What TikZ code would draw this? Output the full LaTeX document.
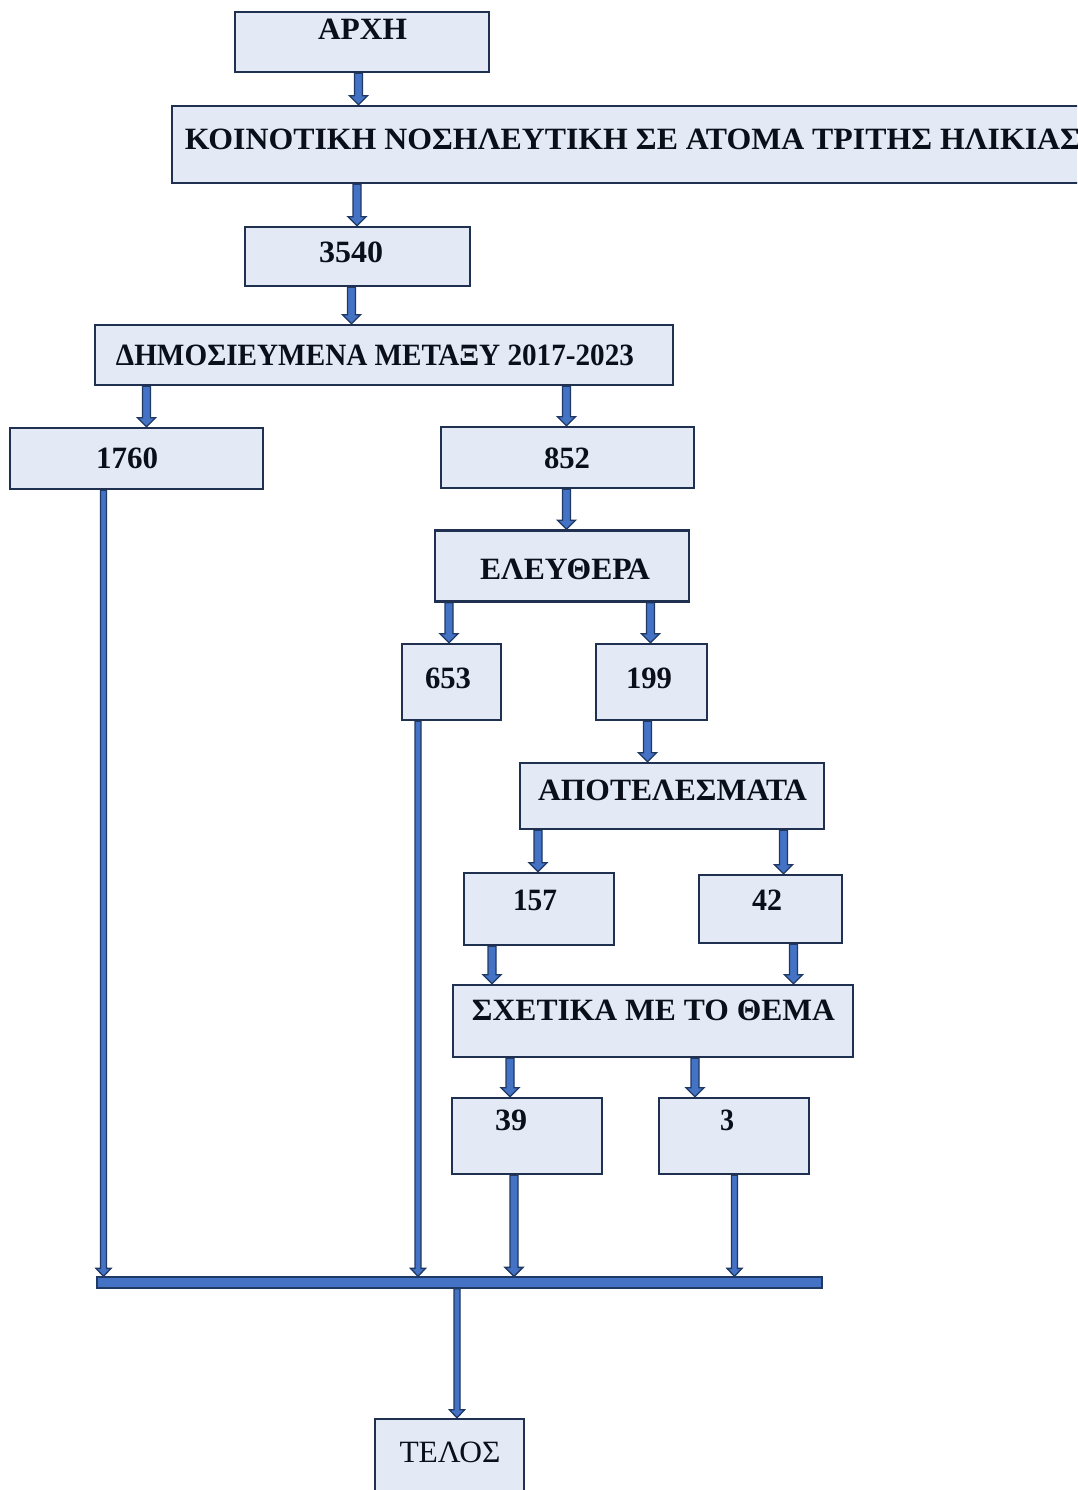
\documentclass[tikz,border=0pt]{standalone}
\usepackage{graphicx}
\usepackage{fontspec}
\setmainfont{Liberation Serif}
\usetikzlibrary{calc,backgrounds}
\definecolor{boxfill}{HTML}{E3E9F5}
\definecolor{boxline}{HTML}{1F3050}
\definecolor{arrblue}{HTML}{4472C4}
\definecolor{arrline}{HTML}{1F3864}
\definecolor{txtc}{HTML}{0A0F1A}
\newcommand{\fitw}[2]{\resizebox{#1pt}{\height}{#2}}
\begin{document}
\begin{tikzpicture}[x=1pt,y=-1pt,
  box/.style={draw=boxline, fill=boxfill, line width=2.4pt, inner sep=0pt, rectangle},
  lbl/.style={anchor=base, inner sep=0pt, text=txtc, font=\fontsize{31}{36}\selectfont\bfseries},
  lblr/.style={anchor=base, inner sep=0pt, text=txtc, font=\fontsize{31}{36}\selectfont},
  barrow/.style n args={3}{draw=arrline, fill=arrblue, line width=1.3pt, line join=miter,
    to path={let \p1=(\tikztostart), \p2=(\tikztotarget) in
      (\x1-#1,\y1) -- (\x1-#1,\y2+#3) -- (\x1-#2,\y2+#3) -- (\x1,\y2) -- (\x1+#2,\y2+#3) -- (\x1+#1,\y2+#3) -- (\x1+#1,\y1) -- cycle}},
  bigarr/.style={barrow={4pt}{9pt}{9pt}},
  thinarr/.style={barrow={3pt}{7.5pt}{8pt}},
]
\useasboundingbox (0,0) rectangle (1077,1490);
\clip (0,0) rectangle (1077,1490);

% boxes
\node[box, minimum width=254, minimum height=60] (arch) at (362,42) {};
\node[box, minimum width=938, minimum height=77] (koin) at (641,144.5) {};
\node[box, minimum width=225, minimum height=59] (n3540) at (357.5,256.5) {};
\node[box, minimum width=578, minimum height=60] (dem) at (384,355) {};
\node[box, minimum width=253, minimum height=61] (n1760) at (136.5,458.5) {};
\node[box, minimum width=253, minimum height=61] (n852) at (567.5,457.5) {};
\node[box, minimum width=254, minimum height=71] (eleu) at (562,566) {};
\node[box, minimum width=99, minimum height=76] (n653) at (451.5,682) {};
\node[box, minimum width=111, minimum height=76] (n199) at (651.5,682) {};
\node[box, minimum width=304, minimum height=66] (apot) at (672,796) {};
\node[box, minimum width=150, minimum height=72] (n157) at (539,909) {};
\node[box, minimum width=143, minimum height=68] (n42) at (770.5,909) {};
\node[box, minimum width=400, minimum height=72] (sxet) at (653,1021) {};
\node[box, minimum width=150, minimum height=76] (n39) at (527,1136) {};
\node[box, minimum width=150, minimum height=76] (n3) at (734,1136) {};
\node[draw=arrline, fill=arrblue, line width=1.3pt, inner sep=0pt, minimum width=725, minimum height=11] (bus) at (459.5,1282.5) {};
\node[box, minimum width=149, minimum height=101] (telos) at (449.5,1469.5) {};

% texts
\node[lbl] (t-arch) at (362.5,40) {\fitw{89}{ΑΡΧΗ}};
\node[lbl] (t-koin) at (633,150) {\fitw{896}{ΚΟΙΝΟΤΙΚΗ ΝΟΣΗΛΕΥΤΙΚΗ ΣΕ ΑΤΟΜΑ ΤΡΙΤΗΣ ΗΛΙΚΙΑΣ}};
\node[lbl] (t-3540) at (351,262) {\fitw{64}{3540}};
\node[lbl] (t-dem) at (375,365) {\fitw{518}{ΔΗΜΟΣΙΕΥΜΕΝΑ ΜΕΤΑΞΥ 2017-2023}};
\node[lbl] (t-1760) at (127,468) {\fitw{62}{1760}};
\node[lbl] (t-852) at (567,468) {\fitw{46}{852}};
\node[lbl] (t-eleu) at (565,579) {\fitw{170}{ΕΛΕΥΘΕΡΑ}};
\node[lbl] (t-653) at (448,688) {\fitw{46}{653}};
\node[lbl] (t-199) at (649,688) {\fitw{46}{199}};
\node[lbl] (t-apot) at (672.5,800) {\fitw{269}{ΑΠΟΤΕΛΕΣΜΑΤΑ}};
\node[lbl] (t-157) at (535,910) {\fitw{44}{157}};
\node[lbl] (t-42) at (767,910) {\fitw{30}{42}};
\node[lbl] (t-sxet) at (653.5,1020) {\fitw{363}{ΣΧΕΤΙΚΑ ΜΕ ΤΟ ΘΕΜΑ}};
\node[lbl] (t-39) at (511,1130) {\fitw{32}{39}};
\node[lbl] (t-3) at (727,1130) {\fitw{14}{3}};
\node[lblr] (t-telos) at (450,1462) {\fitw{101}{ΤΕΛΟΣ}};

% connectors
\begin{scope}[on background layer]
\draw[bigarr] (358.5,0 |- arch.south) to (358.5,0 |- koin.north);
\draw[bigarr] (357,0 |- koin.south) to (357,0 |- n3540.north);
\draw[bigarr] (351.5,0 |- n3540.south) to (351.5,0 |- dem.north);
\draw[bigarr] (146.5,0 |- dem.south) to (146.5,0 |- n1760.north);
\draw[bigarr] (566.5,0 |- dem.south) to (566.5,0 |- n852.north);
\draw[bigarr] (566.5,0 |- n852.south) to (566.5,0 |- eleu.north);
\draw[bigarr] (449,0 |- eleu.south) to (449,0 |- n653.north);
\draw[bigarr] (650.5,0 |- eleu.south) to (650.5,0 |- n199.north);
\draw[bigarr] (647.5,0 |- n199.south) to (647.5,0 |- apot.north);
\draw[bigarr] (538,0 |- apot.south) to (538,0 |- n157.north);
\draw[bigarr] (783.5,0 |- apot.south) to (783.5,0 |- n42.north);
\draw[bigarr] (492,0 |- n157.south) to (492,0 |- sxet.north);
\draw[bigarr] (793.5,0 |- n42.south) to (793.5,0 |- sxet.north);
\draw[bigarr] (510,0 |- sxet.south) to (510,0 |- n39.north);
\draw[bigarr] (695,0 |- sxet.south) to (695,0 |- n3.north);
\draw[thinarr] (103.5,0 |- n1760.south) to (103.5,0 |- bus.north);
\draw[thinarr] (418,0 |- n653.south) to (418,0 |- bus.north);
\draw[bigarr] (514,0 |- n39.south) to (514,0 |- bus.north);
\draw[thinarr] (734.5,0 |- n3.south) to (734.5,0 |- bus.north);
\draw[thinarr] (457,0 |- bus.south) to (457,0 |- telos.north);
\end{scope}
\end{tikzpicture}
\end{document}
